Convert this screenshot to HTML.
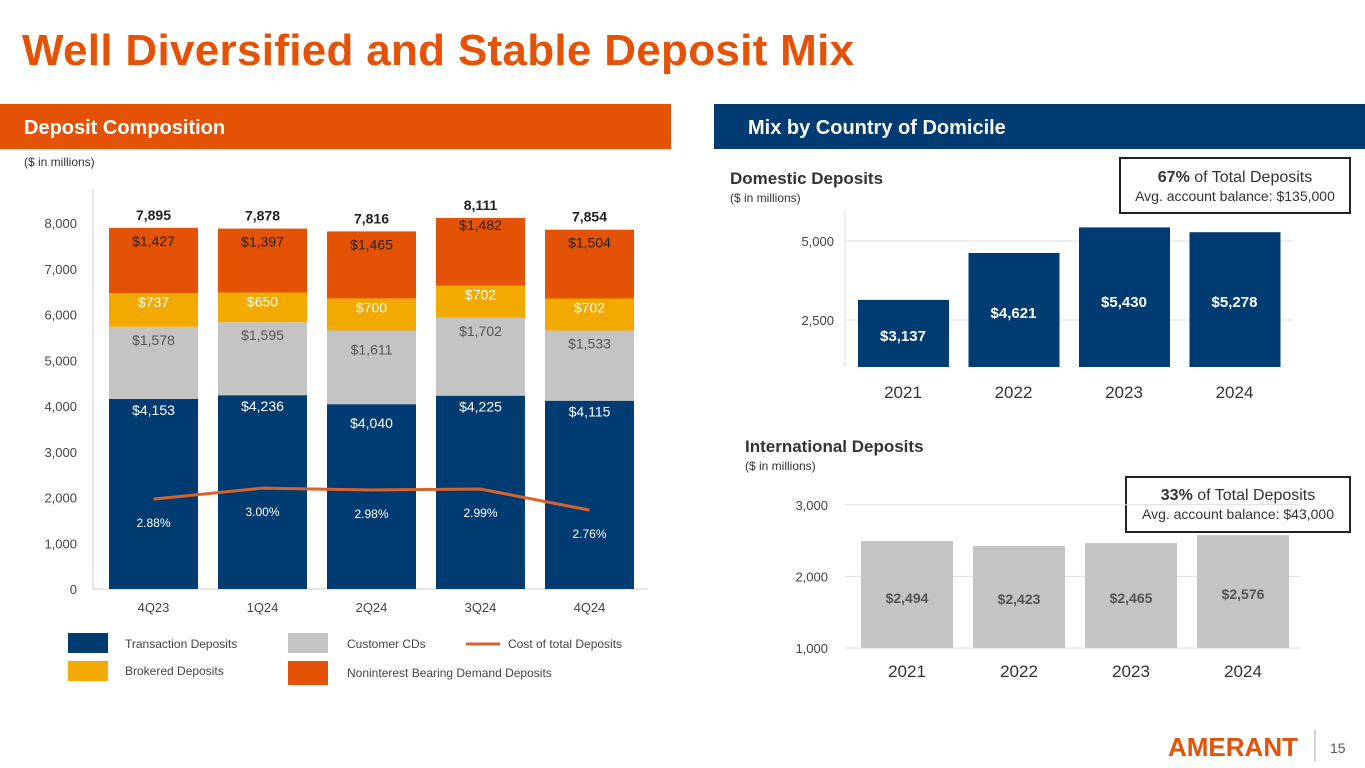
<!DOCTYPE html>
<html><head><meta charset="utf-8">
<style>
body{margin:0;width:1365px;height:768px;background:#fff;overflow:hidden;font-family:"Liberation Sans",sans-serif}
svg{position:absolute;left:0;top:0}
text{font-family:"Liberation Sans",sans-serif}
</style></head><body>
<svg id="s" width="1365" height="768">
<text x="22" y="65" font-size="44" font-weight="bold" fill="#E35205" letter-spacing="0.3">Well Diversified and Stable Deposit Mix</text>
<rect x="0" y="104" width="671" height="45" fill="#E35205"/>
<text x="24" y="134" font-size="20" font-weight="bold" fill="#fff">Deposit Composition</text>
<rect x="714" y="104" width="651" height="45" fill="#003B71"/>
<text x="748" y="134" font-size="20" font-weight="bold" fill="#fff">Mix by Country of Domicile</text>
<text x="24" y="166" font-size="12" fill="#333">($ in millions)</text>
<text x="730" y="184" font-size="17" font-weight="bold" fill="#333">Domestic Deposits</text>
<text x="730" y="202" font-size="12" fill="#333">($ in millions)</text>
<rect x="1120" y="158" width="230" height="55" fill="#fff" stroke="#222" stroke-width="2"/>
<text x="1235" y="182" font-size="16" text-anchor="middle" fill="#333"><tspan font-weight="bold">67%</tspan> of Total Deposits</text>
<text x="1235" y="201" font-size="14" text-anchor="middle" fill="#333">Avg. account balance: $135,000</text>
<text x="745" y="452" font-size="17" font-weight="bold" fill="#333">International Deposits</text>
<text x="745" y="470" font-size="12" fill="#333">($ in millions)</text>
<rect x="1126" y="477" width="224" height="55" fill="#fff" stroke="#222" stroke-width="2"/>
<text x="1238" y="500" font-size="16" text-anchor="middle" fill="#333"><tspan font-weight="bold">33%</tspan> of Total Deposits</text>
<text x="1238" y="519" font-size="14" text-anchor="middle" fill="#333">Avg. account balance: $43,000</text>
<g>
<rect x="68" y="633" width="40" height="20" fill="#003B71"/>
<text x="125" y="648" font-size="12" fill="#444">Transaction Deposits</text>
<rect x="68" y="661" width="40" height="20" fill="#F2A900"/>
<text x="125" y="675" font-size="12" fill="#444">Brokered Deposits</text>
<rect x="288" y="633" width="40" height="20" fill="#C4C4C4"/>
<text x="347" y="648" font-size="12" fill="#444">Customer CDs</text>
<rect x="288" y="661" width="40" height="24" fill="#E35205"/>
<text x="347" y="677" font-size="12" fill="#444">Noninterest Bearing Demand Deposits</text>
<line x1="466" y1="644" x2="500" y2="644" stroke="#D9622B" stroke-width="3"/>
<text x="508" y="648" font-size="12" fill="#444">Cost of total Deposits</text>
</g>
<text x="1168" y="756" font-size="26" font-weight="bold" fill="#E35205" letter-spacing="0">AMERANT</text>
<line x1="1315" y1="730" x2="1315" y2="762" stroke="#aaa"/>
<text x="1330" y="753" font-size="14" fill="#555">15</text>
</svg>
<script>
const quarters=["4Q23","1Q24","2Q24","3Q24","4Q24"];
const transaction=[4153,4236,4040,4225,4115];
const cds=[1578,1595,1611,1702,1533];
const brokered=[737,650,700,702,702];
const nib=[1427,1397,1465,1482,1504];
const totals=[7895,7878,7816,8111,7854];
const cost=[2.88,3.00,2.98,2.99,2.76];
const leftTicks=[0,1000,2000,3000,4000,5000,6000,7000,8000];
const years=["2021","2022","2023","2024"];
const domestic=[3137,4621,5430,5278];
const domTicks=[2500,5000];
const intl=[2494,2423,2465,2576];
const intlTicks=[1000,2000,3000];

const s=document.getElementById('s');const NS="http://www.w3.org/2000/svg";
function el(t,a,txt){const e=document.createElementNS(NS,t);for(const k in a)e.setAttribute(k,a[k]);if(txt!==undefined)e.textContent=txt;s.appendChild(e);return e;}
const fmt=v=>v.toLocaleString('en-US');
const ly=v=>589-v*0.045750;
const lx=i=>109+i*109;const bw=89;
const cy=v=>589-(v-1.9)*91.7;
leftTicks.forEach(t=>{const e=el('text',{x:77,y:ly(t)+5,'font-size':13,'text-anchor':'end',fill:'#444'},fmt(t));

});
const ax=el('line',{x1:93,y1:ly(0),x2:648,y2:ly(0),stroke:'#ccc'});


const ax2=el('line',{x1:93,y1:189,x2:93,y2:589,stroke:'#ccc'});


quarters.forEach((q,i)=>{
 const segs=[[transaction[i],'#003B71','#fff','transaction'],[cds[i],'#C4C4C4','#555','cds'],[brokered[i],'#F2A900','#fff','brokered'],[nib[i],'#E35205','#222','nib']];
 let base=0;
 segs.forEach(([v,c,tc,n],k)=>{
  const r=el('rect',{x:lx(i),y:ly(base+v),width:bw,height:ly(base)-ly(base+v),fill:c});
  
  
  const off=[i==2?24:16,i==2?24:18,14,i==3?12:18][k];
  const t=el('text',{x:lx(i)+bw/2,y:ly(base+v)+off,'font-size':14,'text-anchor':'middle',fill:tc},'$'+fmt(v));
  
  
  base+=v;
 });
 const tt=el('text',{x:lx(i)+bw/2,y:ly(base)-8,'font-size':14,'font-weight':'bold','text-anchor':'middle',fill:'#222'},fmt(totals[i]));
 
 
 const xl=el('text',{x:lx(i)+bw/2,y:612,'font-size':13,'text-anchor':'middle',fill:'#444'},q);
 
 
 const pl=el('text',{x:lx(i)+bw/2,y:cy(cost[i])+28,'font-size':12,'text-anchor':'middle',fill:'#fff'},cost[i].toFixed(2)+'%');
 
 
});
const pl=el('polyline',{points:cost.map((v,i)=>(lx(i)+bw/2)+','+cy(v)).join(' '),fill:'none',stroke:'#D9622B','stroke-width':3});


const dy=v=>399-v*0.0316;
const dx=i=>858+i*110.5;
domTicks.forEach(t=>{const g=el('line',{x1:845,y1:dy(t),x2:1293,y2:dy(t),stroke:'#ddd'});


const e=el('text',{x:834,y:dy(t)+5,'font-size':13,'text-anchor':'end',fill:'#444'},fmt(t));

});
const dl=el('line',{x1:845,y1:210,x2:845,y2:367,stroke:'#ddd'});


years.forEach((y,i)=>{
 const r=el('rect',{x:dx(i),y:dy(domestic[i]),width:91,height:367-dy(domestic[i]),fill:'#003B71'});
 
 
 const t=el('text',{x:dx(i)+45,y:[341,318,307,307][i],'font-size':15,'font-weight':'bold','text-anchor':'middle',fill:'#fff'},'$'+fmt(domestic[i]));
 
 
 const xl=el('text',{x:dx(i)+45,y:398,'font-size':17,'text-anchor':'middle',fill:'#333'},y);
 
 
});
const iy=v=>648-(v-1000)*0.0716;
const ix=i=>861+i*112;
intlTicks.forEach(t=>{const g=el('line',{x1:845,y1:iy(t),x2:1300,y2:iy(t),stroke:'#ddd'});


const e=el('text',{x:828,y:iy(t)+5,'font-size':13,'text-anchor':'end',fill:'#444'},fmt(t));

});
years.forEach((y,i)=>{
 const r=el('rect',{x:ix(i),y:iy(intl[i]),width:92,height:648-iy(intl[i]),fill:'#C4C4C4'});
 
 
 const t=el('text',{x:ix(i)+46,y:[603,604,603,599][i],'font-size':14,'font-weight':'bold','text-anchor':'middle',fill:'#555'},'$'+fmt(intl[i]));
 
 
 const xl=el('text',{x:ix(i)+46,y:677,'font-size':17,'text-anchor':'middle',fill:'#333'},y);
 
 
});
</script>
</body></html>
